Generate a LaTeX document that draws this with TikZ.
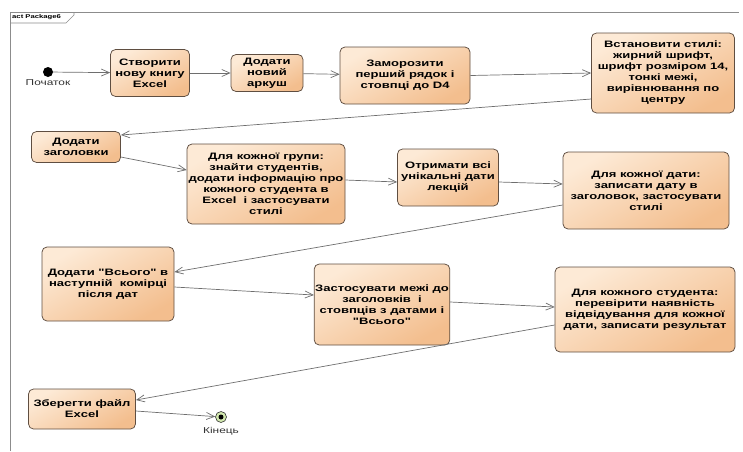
\documentclass[tikz,border=0pt]{standalone}
\usepackage{fontspec}
\newfontfamily\df{Liberation Sans}[FakeStretch=1.4]
\usetikzlibrary{arrows.meta,calc}
\definecolor{nlight}{RGB}{253,234,214}
\definecolor{ndark}{RGB}{243,190,142}
\definecolor{nborder}{RGB}{95,78,65}
\definecolor{lgray}{RGB}{110,110,110}
\definecolor{framegray}{RGB}{140,140,140}
\definecolor{endfill}{RGB}{210,232,175}
\begin{document}
\begin{tikzpicture}[x=1pt,y=-1pt,
  act/.style={draw=nborder, line width=0.75pt, rounded corners=5pt,
    top color=nlight, bottom color=ndark, shading angle=30,
    align=center, font=\df\fontsize{9.3}{11}\selectfont\bfseries, inner sep=1pt},
  flow/.style={draw=lgray, line width=0.7pt, -{Straight Barb[length=8pt,width=7pt]}},
  lbl/.style={font=\df\fontsize{8.5}{10}\selectfont, text=black!80}
]
\useasboundingbox (0,0) rectangle (743,451);
% frame
\draw[framegray, line width=0.6pt] (10,451) -- (10,12) -- (739,12);
\draw[framegray, line width=0.6pt] (10,23) -- (66,23) -- (74,15) -- (74,12);
\node[font=\df\fontsize{5.5}{6}\selectfont\bfseries, anchor=west, inner sep=0] (tab) at (12,17.5) {act Package6};

% initial / final
\node[circle, fill=black, minimum size=10pt, inner sep=0] (start) at (48,72) {};
\node[lbl] (startlbl) at (48,83) {Початок};
\node[circle, draw=black!80, fill=endfill, minimum size=11pt, inner sep=0, line width=0.6pt] (end) at (221,417) {};
\node[circle, fill=black, minimum size=5pt, inner sep=0] (enddot) at (end) {};
\node[lbl] (endlbl) at (221,431) {Кінець};

% activities
\node[act, minimum width=79pt, minimum height=47pt] (n1) at (150,73) {Створити\\нову книгу\\Excel};
\node[act, minimum width=72pt, minimum height=37pt] (n2) at (267,73) {Додати\\новий\\аркуш};
\node[act, minimum width=130pt, minimum height=57pt] (n3) at (405,75.5) {Заморозити\\перший рядок і\\стовпці до D4};
\node[act, minimum width=143pt, minimum height=80pt] (n4) at (663,73) {Встановити стилі:\\жирний шрифт,\\шрифт розміром 14,\\тонкі межі,\\вирівнювання по\\центру};
\node[act, minimum width=89pt, minimum height=31pt] (n5) at (76,147) {Додати\\заголовки};
\node[act, minimum width=158pt, minimum height=80pt] (n6) at (266,184) {Для кожної групи:\\знайти студентів,\\додати інформацію про\\кожного студента в\\Excel\ \ і застосувати\\стилі};
\node[act, minimum width=101pt, minimum height=57pt] (n7) at (448,177.5) {Отримати всі\\унікальні дати\\лекцій};
\node[act, minimum width=166pt, minimum height=77pt] (n8) at (646,190.5) {Для кожної дати:\\записати дату в\\заголовок, застосувати\\стилі};
\node[act, minimum width=132pt, minimum height=74pt] (n9) at (108,284) {Додати "Всього" в\\наступній\ \ комірці\\після дат};
\node[act, minimum width=132pt, minimum height=81pt] (n10) at (382,304.5) {Застосувати межі до\\заголовків\ \ і\\стовпців з датами і\\"Всього"};
\node[act, minimum width=180pt, minimum height=85pt] (n11) at (645,309.5) {Для кожного студента:\\перевірити наявність\\відвідування для кожної\\дати, записати результат};
\node[act, minimum width=107pt, minimum height=40pt] (n12) at (82,409) {Зберегти файл\\Excel};

% flows
\draw[flow] (start) -- (n1);
\draw[flow] (n1) -- (n2);
\draw[flow] (n2) -- (n3);
\draw[flow] (n3.east) -- (n4.west);
\draw[flow] ($(n4.west)+(0,26)$) -- ($(n5.east)+(0,-12)$);
\draw[flow] ($(n5.east)+(0,10)$) -- ($(n6.west)+(0,-14)$);
\draw[flow] ($(n6.east)+(0,-4)$) -- ($(n7.west)+(0,4.5)$);
\draw[flow] ($(n7.east)+(0,4.5)$) -- ($(n8.west)+(0,-6.5)$);
\draw[flow] ($(n8.west)+(0,14.5)$) -- ($(n9.east)+(0,-12)$);
\draw[flow] ($(n9.east)+(0,3)$) -- ($(n10.west)+(0,-9.5)$);
\draw[flow] ($(n10.east)+(0,-2.5)$) -- ($(n11.west)+(0,-2.5)$);
\draw[flow] ($(n11.west)+(0,15.5)$) -- ($(n12.east)+(0,-9)$);
\draw[flow] ($(n12.east)+(0,2)$) -- (end);
\end{tikzpicture}
\end{document}
